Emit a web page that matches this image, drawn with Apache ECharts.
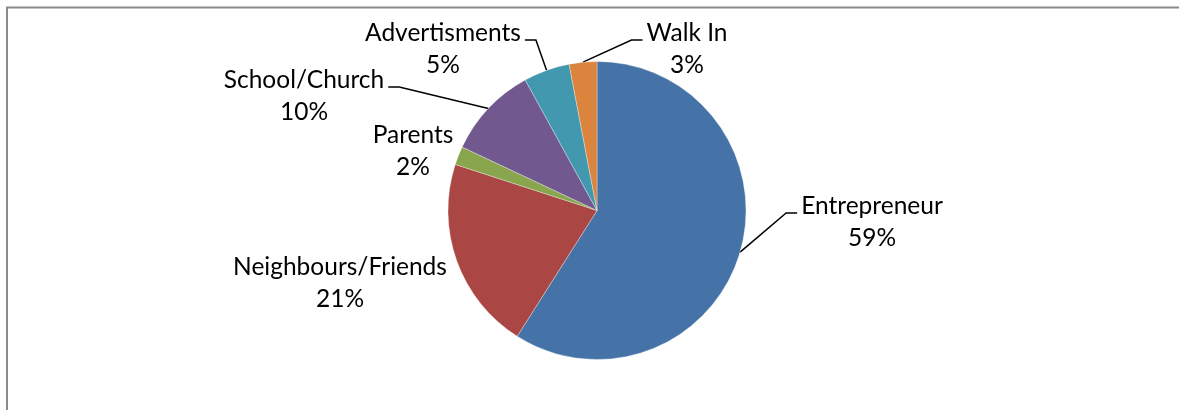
<!DOCTYPE html>
<html>
<head>
<meta charset="utf-8">
<title>Source of referral</title>
<script src="https://cdn.jsdelivr.net/npm/echarts@6/dist/echarts.min.js"></script>
<style>
  html, body { margin: 0; padding: 0; background: #ffffff; }
  #chart { width: 1179px; height: 410px; }
</style>
</head>
<body>
<div id="chart"></div>
<script>
// Referral sources and their share (percent)
const categories = ['Entrepreneur', 'Neighbours/Friends', 'Parents', 'School/Church', 'Advertisments', 'Walk In'];
const shares = [59, 21, 2, 10, 5, 3];
const sliceColors = ['#4572A7', '#AA4643', '#89A54E', '#71588F', '#4198AF', '#DB843D'];

// Where each two-line label block sits (centre of the block), and which ones get a leader line
const labelSpots = {
  'Entrepreneur': [872, 222],
  'Neighbours/Friends': [340, 283],
  'Parents': [413, 151],
  'School/Church': [304, 96],
  'Advertisments': [443, 49],
  'Walk In': [687, 49]
};
const withLeader = { 'Entrepreneur': true, 'School/Church': true, 'Advertisments': true, 'Walk In': true };

const chart = echarts.init(document.getElementById('chart'), null, { renderer: 'canvas' });

const pieData = categories.map((name, i) => ({
  name: name,
  value: shares[i],
  itemStyle: { color: sliceColors[i] },
  labelLine: { show: !!withLeader[name] }
}));

chart.setOption({
  animation: false,
  backgroundColor: '#ffffff',
  graphic: [{
    type: 'rect',
    shape: { x: 7, y: 7.5, width: 1300, height: 600 },
    style: { fill: 'none', stroke: '#8a8a8a', lineWidth: 2 },
    silent: true
  }],
  series: [{
    type: 'pie',
    center: [597, 210.5],
    radius: [0, 149],
    startAngle: 90,
    clockwise: true,
    avoidLabelOverlap: false,
    itemStyle: { borderColor: 'rgba(255,255,255,0.45)', borderWidth: 0.7 },
    label: {
      show: true,
      position: 'outside',
      formatter: p => p.name + '\n' + p.value + '%',
      fontFamily: 'Lato',
      fontSize: 24.5,
      lineHeight: 32,
      color: '#000000',
      align: 'center'
    },
    labelLine: {
      show: true,
      length: 20,
      length2: 10,
      smooth: false,
      lineStyle: { color: '#000000', width: 1.5 }
    },
    labelLayout: function (params) {
      const name = categories[params.dataIndex];
      const spot = labelSpots[name];
      const w = params.labelRect.width;
      const h = params.labelRect.height;
      const out = { x: spot[0], y: spot[1], align: 'center', verticalAlign: 'middle' };
      const pts = params.labelLinePoints;
      if (pts && withLeader[name]) {
        const anchor = pts[0];
        const onRight = spot[0] > anchor[0];
        const ly = spot[1] - h / 2 + 23;
        const endX = onRight ? spot[0] - w / 2 - 4 : spot[0] + w / 2 + 4;
        const bendX = onRight ? endX - 11 : endX + 11;
        out.labelLinePoints = [anchor, [bendX, ly], [endX, ly]];
      }
      return out;
    },
    data: pieData
  }]
});
</script>
</body>
</html>
